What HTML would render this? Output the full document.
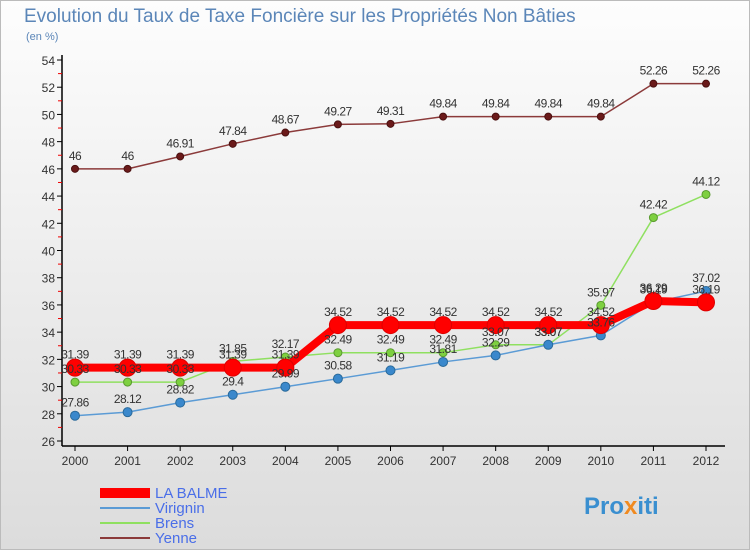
<!DOCTYPE html>
<html><head><meta charset="utf-8">
<style>
body{margin:0;width:750px;height:550px;overflow:hidden;font-family:"Liberation Sans",sans-serif;}
#bg{position:absolute;left:0;top:0;width:748px;height:548px;border:1px solid #bbb;background:linear-gradient(#fdfdfd,#dcdcdc);}
</style></head><body>
<div id="bg"></div>
<svg id="chart" width="750" height="550" style="position:absolute;left:0;top:0">
<text x="24" y="22" font-size="19" fill="#5b86b8">Evolution du Taux de Taxe Foncière sur les Propriétés Non Bâties</text>
<text x="26" y="40" font-size="11" fill="#5b86b8">(en %)</text>
<g id="axes"></g><g id="series"></g><g id="labels"></g>
<g>
<rect x="100" y="488" width="50" height="10" fill="#ff0000"/>
<text x="155" y="498" font-size="15" fill="#4a6ee8">LA BALME</text>
<line x1="100" y1="508" x2="150" y2="508" stroke="#5b9bd5" stroke-width="2"/>
<text x="155" y="513" font-size="15" fill="#4a6ee8">Virignin</text>
<line x1="100" y1="523" x2="150" y2="523" stroke="#8fe060" stroke-width="2"/>
<text x="155" y="528" font-size="15" fill="#4a6ee8">Brens</text>
<line x1="100" y1="538" x2="150" y2="538" stroke="#8b3a3a" stroke-width="2"/>
<text x="155" y="543" font-size="15" fill="#4a6ee8">Yenne</text>
</g>
<text x="584" y="514" font-size="24" font-weight="bold" fill="#3a8fd0">Pro<tspan fill="#f08a20">x</tspan>iti</text>
</svg>
<script>
const years=[2000,2001,2002,2003,2004,2005,2006,2007,2008,2009,2010,2011,2012];
const yTicks=[26,28,30,32,34,36,38,40,42,44,46,48,50,52,54];
const laBalme=[31.39,31.39,31.39,31.39,31.39,34.52,34.52,34.52,34.52,34.52,34.52,36.29,36.19];
const virignin=[27.86,28.12,28.82,29.4,29.99,30.58,31.19,31.81,32.29,33.07,33.76,36.19,37.02];
const brens=[30.33,30.33,30.33,31.85,32.17,32.49,32.49,32.49,33.07,33.07,35.97,42.42,44.12];
const yenne=[46,46,46.91,47.84,48.67,49.27,49.31,49.84,49.84,49.84,49.84,52.26,52.26];
const NS='http://www.w3.org/2000/svg';
const X=i=>75+i*(706-75)/12;
const Y=v=>441-(v-26)*(441-60)/28;
function mk(tag,attrs,parent,txt){const e=document.createElementNS(NS,tag);for(const k in attrs)e.setAttribute(k,attrs[k]);if(txt!==undefined)e.textContent=txt;document.getElementById(parent).appendChild(e);return e;}
let e=mk('line',{x1:62,y1:55,x2:62,y2:446,stroke:'#000','stroke-width':1.5},'axes');


e=mk('line',{x1:62,y1:446,x2:725,y2:446,stroke:'#000','stroke-width':1.5},'axes');


yTicks.forEach(t=>{
 e=mk('line',{x1:57,y1:Y(t),x2:62,y2:Y(t),stroke:'#000'},'axes');
 
 
 if(t<54){e=mk('line',{x1:58,y1:Y(t+1),x2:62,y2:Y(t+1),stroke:'#e00'},'axes');
 
 }
 e=mk('text',{x:55,y:Y(t)+5,'font-size':12,'text-anchor':'end',fill:'#333'},'axes',t);
 
 
});
years.forEach((yr,i)=>{
 e=mk('line',{x1:X(i),y1:446,x2:X(i),y2:451,stroke:'#000'},'axes');
 
 
 e=mk('text',{x:X(i),y:465,'font-size':12,'text-anchor':'middle',fill:'#333'},'axes',yr);
 
 
});
function series(data,name,color,w,r,dot,dotStroke){
 const pts=data.map((v,i)=>X(i)+','+Y(v)).join(' ');
 let p=mk('polyline',{points:pts,fill:'none',stroke:color,'stroke-width':w,'stroke-linejoin':'round'},'series');
 
 
 data.forEach((v,i)=>{
  let c=mk('circle',{cx:X(i),cy:Y(v),r:r,fill:dot,stroke:dotStroke,'stroke-width':1},'series');
  
  
  let t=mk('text',{x:X(i),y:Y(v)-9,'font-size':12,'text-anchor':'middle',fill:'#333','letter-spacing':'-0.5'},'labels',String(v));
  
  
 });
}
series(yenne,'yenne','#8b3a3a',1.5,3.5,'#6b1a1a','#4a1010');
series(brens,'brens','#8fe060',1.5,4,'#7ed040','#5a9a30');
series(virignin,'virignin','#5b9bd5',1.5,4.5,'#3a88cc','#2a6a9a');
series(laBalme,'la-balme','#ff0000',8,8.5,'#ff0000','#dd0000');
</script>
</body></html>
